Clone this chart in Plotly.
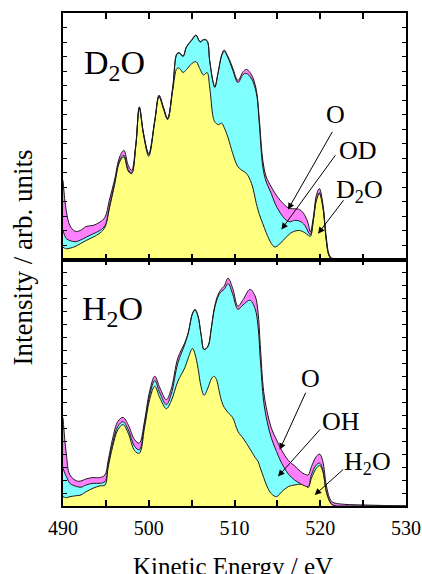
import plotly.graph_objects as go
from plotly.subplots import make_subplots

# ---------------- data ----------------
# D2O panel: energies (eV) and the upper edge of each stacked band (arb. units)
d2o_energy = [490.0, 490.2, 490.4, 490.8, 491.4, 492.0, 492.7, 493.5, 494.3, 494.9,
              495.4, 496.0, 496.6, 497.1, 497.6, 498.0, 498.5, 498.9, 499.4, 500.0,
              500.7, 501.2, 501.7, 502.2, 502.8, 503.3, 503.6, 504.0, 504.4, 505.0,
              505.5, 506.0, 506.4, 506.8, 507.1, 507.5, 507.7, 508.1, 508.5, 508.8,
              509.25, 509.8, 510.4, 511.0, 511.4, 512.0, 512.55, 512.9, 513.3, 513.7,
              514.3, 514.7, 515.3, 516.05, 516.5, 517.0, 517.6, 518.2, 518.6, 518.85,
              519.2, 519.55, 519.9, 520.3, 520.7, 521.0, 521.3, 521.9, 524.0, 527.0, 530.0]
d2o_mol = [0.85, 0.78, 0.74, 0.78, 0.89, 1.08, 1.31, 1.54, 1.82, 2.23,
           3.5, 5.11, 6.72, 7.07, 6.1, 5.92, 7.88, 10.41, 8.57, 7.12,
           9.49, 11.22, 10.41, 9.65, 11.68, 13.18, 13.18, 12.9, 13.1, 13.5,
           13.64, 13.1, 12.72, 12.9, 11.91, 9.84, 9.5, 9.3, 9.4, 9.1,
           8.4, 7.3, 6.4, 6.1, 5.93, 5.23, 3.85, 3.1, 2.47, 1.85,
           1.1, 0.86, 1.09, 1.55, 1.8, 1.95, 2.0, 1.85, 1.66, 1.6,
           2.7, 4.08, 4.54, 3.62, 1.32, 0.29, 0.05, 0.0, 0.0, 0.0, 0.0]
d2o_od_edge = [2.0, 1.65, 1.43, 1.31, 1.22, 1.33, 1.54, 1.77, 2.0, 2.35,
               3.62, 5.23, 6.84, 7.19, 6.2, 5.97, 7.93, 10.48, 8.63, 7.25,
               9.55, 11.28, 10.48, 9.7, 11.85, 14.17, 14.22, 14.0, 14.65, 15.1,
               15.45, 15.0, 15.15, 15.07, 13.73, 12.22, 11.87, 12.9, 14.05, 14.35,
               13.9, 13.05, 12.2, 12.75, 12.83, 12.45, 11.45, 9.3, 6.39, 5.35,
               4.54, 3.9, 3.25, 2.7, 2.6, 2.7, 2.65, 2.36, 1.9, 1.7,
               2.75, 4.13, 4.6, 3.67, 1.36, 0.32, 0.07, 0.01, 0.0, 0.0, 0.0]
d2o_o_edge = [5.46, 4.2, 3.3, 2.35, 1.95, 2.0, 2.28, 2.35, 2.58, 2.92,
              4.08, 5.46, 7.07, 7.53, 6.5, 6.15, 7.99, 10.53, 8.68, 7.3,
              9.6, 11.33, 10.53, 9.74, 11.9, 14.21, 14.26, 14.03, 14.68, 15.14,
              15.48, 15.02, 15.18, 15.1, 13.76, 12.26, 11.91, 12.95, 14.1, 14.45,
              13.99, 13.2, 12.35, 12.95, 13.11, 12.72, 11.68, 9.61, 6.85, 5.7,
              5.0, 4.6, 4.1, 3.65, 3.51, 3.5, 3.44, 3.05, 2.47, 1.9,
              2.93, 4.43, 4.89, 3.85, 1.55, 0.4, 0.12, 0.05, 0.04, 0.03, 0.02]

# H2O panel
h2o_energy = [490.0, 490.2, 490.4, 490.8, 491.6, 492.1, 492.7, 493.5, 494.3, 494.9,
              495.25, 495.8, 496.4, 497.0, 497.6, 498.36, 498.9, 499.5, 500.1, 500.7,
              501.3, 502.05, 502.6, 503.4, 504.2, 504.6, 505.1, 505.4, 505.75, 506.1,
              506.45, 506.9, 507.3, 507.6, 507.9, 508.2, 508.5, 508.8, 509.25, 509.8,
              510.4, 511.0, 511.8, 512.4, 512.75, 513.0, 513.4, 513.8, 514.3, 514.9,
              515.5, 516.3, 517.0, 517.7, 518.2, 518.6, 518.97, 519.55, 519.94, 520.3,
              520.7, 521.1, 521.4, 521.9, 523.0, 525.0, 528.0, 530.0]
h2o_mol = [0.72, 0.67, 0.64, 0.72, 0.8, 0.85, 1.1, 1.37, 1.55, 1.62,
           2.91, 4.59, 5.88, 6.27, 5.62, 4.25, 4.07, 6.0, 8.2, 9.23,
           8.33, 7.5, 8.07, 9.62, 10.65, 11.4, 12.14, 11.7, 10.6, 9.2,
           8.53, 9.1, 9.8, 10.0, 9.74, 8.9, 8.07, 7.6, 7.2, 6.8,
           5.75, 5.23, 4.4, 3.75, 3.43, 2.95, 2.2, 1.5, 0.95, 0.72,
           1.1, 1.5, 1.62, 1.68, 1.62, 1.42, 2.14, 2.91, 3.12, 2.66,
           1.1, 0.34, 0.08, 0.0, 0.0, 0.0, 0.0, 0.0]
h2o_oh_edge = [2.91, 2.55, 2.27, 1.75, 1.5, 1.45, 1.62, 1.75, 1.75, 1.88,
               3.17, 4.85, 6.14, 6.5, 5.88, 4.59, 4.33, 6.27, 8.53, 9.67,
               8.71, 7.81, 8.58, 11.03, 12.45, 13.3, 14.8, 15.1, 14.6, 13.2,
               12.05, 12.3, 13.7, 15.0, 15.8, 16.3, 16.55, 16.7, 17.14, 16.3,
               15.16, 15.5, 15.86, 15.2, 13.8, 11.42, 8.07, 6.52, 5.23, 4.2,
               3.3, 2.45, 2.01, 1.72, 1.55, 1.5, 2.4, 3.17, 3.3, 2.78,
               1.2, 0.38, 0.1, 0.01, 0.0, 0.0, 0.0, 0.0]
h2o_o_edge = [6.78, 5.2, 3.94, 2.4, 1.93, 1.93, 2.09, 2.19, 2.19, 2.4,
              3.43, 5.23, 6.52, 6.83, 6.27, 5.1, 4.85, 6.52, 8.84, 10.0,
              9.1, 8.2, 8.97, 11.42, 12.58, 13.36, 14.85, 15.16, 14.65, 13.23,
              12.07, 12.32, 13.74, 15.1, 15.95, 16.45, 16.75, 16.95, 17.56, 16.75,
              15.4, 15.9, 16.7, 16.2, 14.9, 12.45, 8.84, 7.3, 6.0, 5.1,
              4.3, 3.5, 3.1, 2.66, 2.45, 2.4, 3.04, 3.82, 4.0, 3.43,
              1.62, 0.59, 0.3, 0.2, 0.12, 0.08, 0.03, 0.0]

x_tickvals = [490, 495, 500, 505, 510, 515, 520, 525, 530]
x_ticktext = ["490", "", "500", "", "510", "", "520", "", "530"]

# ---------------- figure ----------------
YELLOW = "#FFFF80"
CYAN = "#80FFFF"
MAGENTA = "#FF80FF"
EDGE = "#1a1a1a"
FONT = "Liberation Serif"

fig = make_subplots(rows=2, cols=1, shared_xaxes=True, vertical_spacing=0)

def add_panel(row, x, mol, mid, top):
    line = dict(color=EDGE, width=1, shape="spline", smoothing=1.0)
    fig.add_trace(go.Scatter(x=x, y=mol, mode="lines", line=line, fill="tozeroy",
                             fillcolor=YELLOW, hoverinfo="skip"), row=row, col=1)
    fig.add_trace(go.Scatter(x=x, y=mid, mode="lines", line=line, fill="tonexty",
                             fillcolor=CYAN, hoverinfo="skip"), row=row, col=1)
    fig.add_trace(go.Scatter(x=x, y=top, mode="lines", line=line, fill="tonexty",
                             fillcolor=MAGENTA, hoverinfo="skip"), row=row, col=1)

add_panel(1, d2o_energy, d2o_mol, d2o_od_edge, d2o_o_edge)
add_panel(2, h2o_energy, h2o_mol, h2o_oh_edge, h2o_o_edge)

axis_common = dict(showline=True, linecolor="black", linewidth=1.5, mirror="ticks",
                   ticks="inside", tickcolor="black", showgrid=False, zeroline=False,
                   automargin=False)

fig.update_xaxes(range=[490, 530], tickvals=x_tickvals, ticktext=x_ticktext,
                 ticklen=6, tickwidth=1.5, **axis_common)
fig.update_xaxes(showticklabels=False, row=1, col=1)
fig.update_xaxes(showticklabels=True, row=2, col=1, ticklabelstandoff=3,
                 tickfont=dict(family=FONT, size=20, color="black"))
fig.update_yaxes(showticklabels=False, dtick=1, ticklen=4, tickwidth=1, **axis_common)
fig.update_yaxes(range=[0, 17], row=1, col=1)
fig.update_yaxes(range=[0, 19], row=2, col=1)

fig.update_layout(
    width=422, height=574, autosize=False,
    margin=dict(l=63, r=16, t=13, b=68, autoexpand=False),
    paper_bgcolor="white", plot_bgcolor="white",
    showlegend=False,
    font=dict(family=FONT, color="black"),
)
fig.layout.yaxis.domain = [0.5, 1.0]
fig.layout.yaxis2.domain = [0.0, 0.5]

ann = []
def label(text, x, y, size, xref, yref):
    ann.append(dict(text=text, x=x, y=y, xref=xref, yref=yref, showarrow=False,
                    font=dict(family=FONT, size=size, color="black"),
                    xanchor="center", yanchor="middle"))

def arrow(x_tail, y_tail, x_head, y_head, xref, yref):
    ann.append(dict(text="", x=x_head, y=y_head, ax=x_tail, ay=y_tail,
                    xref=xref, yref=yref, axref=xref, ayref=yref,
                    showarrow=True, arrowhead=2, arrowsize=1.3, arrowwidth=1,
                    arrowcolor="black", standoff=0, startstandoff=0))

# top panel (D2O)
label("D<sub>2</sub>O", 496.0, 13.4, 34, "x", "y")
label("O", 521.8, 10.0, 26, "x", "y")
label("OD", 524.4, 7.5, 26, "x", "y")
label("D<sub>2</sub>O", 524.6, 4.7, 26, "x", "y")
arrow(521.5, 8.9, 516.24, 3.45, "x", "y")
arrow(521.9, 7.3, 515.47, 2.07, "x", "y")
arrow(522.85, 4.19, 519.74, 1.78, "x", "y")

# bottom panel (H2O)
label("H<sub>2</sub>O", 495.8, 15.0, 34, "x2", "y2")
label("O", 518.9, 9.8, 26, "x2", "y2")
label("OH", 522.4, 6.5, 26, "x2", "y2")
label("H<sub>2</sub>O", 525.5, 3.3, 26, "x2", "y2")
arrow(518.38, 8.85, 515.27, 4.33, "x2", "y2")
arrow(520.13, 6.01, 515.07, 2.27, "x2", "y2")
arrow(522.85, 2.92, 519.35, 0.85, "x2", "y2")

# axis titles
ann.append(dict(text="Intensity / arb. units", x=-0.118, y=0.503, xref="paper", yref="paper",
                showarrow=False, textangle=-90, font=dict(family=FONT, size=27, color="black"),
                xanchor="center", yanchor="middle"))
ann.append(dict(text="Kinetic Energy / eV", x=0.497, y=-0.122, xref="paper", yref="paper",
                showarrow=False, font=dict(family=FONT, size=25, color="black"),
                xanchor="center", yanchor="middle"))

fig.update_layout(annotations=ann)
fig.write_html("out.html", config={"displayModeBar": False},
               post_script="document.body.style.margin='0';")
